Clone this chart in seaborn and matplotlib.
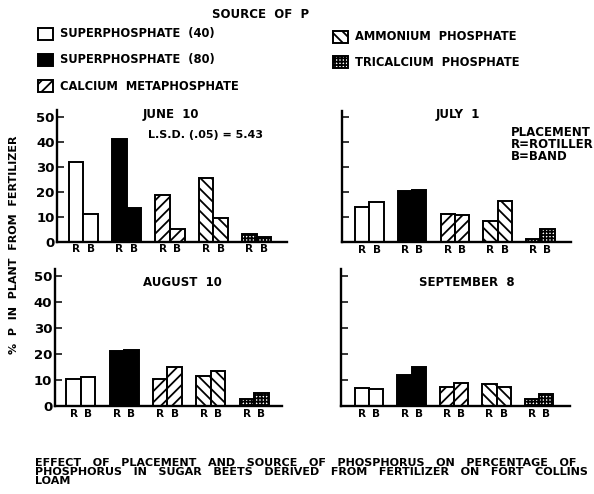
import matplotlib
matplotlib.use("Agg")
import matplotlib.pyplot as plt
import matplotlib.patches as mpatches
import seaborn as sns
import pandas as pd

sns.set_theme(style="white")
plt.rcParams['font.family'] = ['DejaVu Sans']
plt.rcParams['hatch.linewidth'] = 1.3

# ---------------- data ----------------
sources = ["SUPERPHOSPHATE (40)", "SUPERPHOSPHATE (80)", "CALCIUM METAPHOSPHATE",
           "AMMONIUM PHOSPHATE", "TRICALCIUM PHOSPHATE"]
placements = ["R", "B"]
dates = ["JUNE 10", "JULY 1", "AUGUST 10", "SEPTEMBER 8"]

june_R = [32, 41, 18.5, 25.5, 3]
june_B = [11, 13.5, 5, 9.5, 1.7]
july_R = [14, 20.5, 11.5, 8.5, 1.3]
july_B = [16, 21, 11, 16.5, 5.5]
aug_R = [10.5, 21, 10.5, 11.5, 2.6]
aug_B = [11, 21.5, 15, 13.5, 5]
sep_R = [7, 12, 7.5, 8.5, 2.6]
sep_B = [6.5, 15, 9, 7.5, 4.5]

y_ticks = [0, 10, 20, 30, 40, 50]

series = {
    "JUNE 10": (june_R, june_B),
    "JULY 1": (july_R, july_B),
    "AUGUST 10": (aug_R, aug_B),
    "SEPTEMBER 8": (sep_R, sep_B),
}

# ---------------- styles ----------------
face = ["white", "black", "white", "white", "white"]
hatches = ["", "", "///", "\\\\\\", "+++++"]

W, H = 594, 494
fig = plt.figure(figsize=(W / 100, H / 100), dpi=100)


def fx(x):
    return x / W


def fy(y):
    return 1 - y / H


def spaced(s, n=2):
    return (" " * n).join(s.split(" "))


# axes rects in pixels: (left, right, zero_y, px_per_unit)
rects = {
    "JUNE 10": (57.3, 287, 241.7, 2.5),
    "JULY 1": (341.7, 571, 242.5, 2.5),
    "AUGUST 10": (55, 281.7, 406, 2.6),
    "SEPTEMBER 8": (340.7, 570, 406, 2.6),
}
xlims = {
    "JUNE 10": (-0.6, 4.7),
    "JULY 1": (-0.65, 4.72),
    "AUGUST 10": (-0.6, 4.64),
    "SEPTEMBER 8": (-0.67, 4.73),
}
title_pos = {
    "JUNE 10": (171, 114),
    "JULY 1": (458, 114),
    "AUGUST 10": (182, 282),
    "SEPTEMBER 8": (467, 282),
}
YTOP = 52.5
bold = dict(fontweight="bold", color="black")

for d in dates:
    l, r, z, ppu = rects[d]
    hpx = YTOP * ppu
    ax = fig.add_axes([fx(l), fy(z), fx(r - l), hpx / H])
    R, B = series[d]
    df = pd.DataFrame({
        "source": sources * 2,
        "placement": ["R"] * len(sources) + ["B"] * len(sources),
        "pct": list(R) + list(B),
    })
    sns.barplot(data=df, x="source", y="pct", hue="placement", order=sources,
                hue_order=placements, width=0.67, gap=0, errorbar=None,
                legend=False, edgecolor="black", linewidth=1.4, ax=ax,
                palette=["white", "white"], saturation=1)
    for cont in ax.containers:
        for i, bar in enumerate(cont):
            bar.set_facecolor(face[i])
            bar.set_hatch(hatches[i])
            bar.set_edgecolor("black")
    ax.set_xlim(*xlims[d])
    ax.set_ylim(0, YTOP)
    ax.set_xlabel("")
    ax.set_ylabel("")
    for s in ["top", "right"]:
        ax.spines[s].set_visible(False)
    for s in ["left", "bottom"]:
        ax.spines[s].set_linewidth(1.7)
        ax.spines[s].set_color("black")
    ax.set_yticks(y_ticks)
    left_col = d in ("JUNE 10", "AUGUST 10")
    if left_col:
        ax.set_yticklabels([str(t) for t in y_ticks], fontsize=9.5, **bold)
    else:
        ax.set_yticklabels([])
    ax.tick_params(axis="y", direction="in", length=5, width=1.3, pad=2,
                   left=True)
    xt, xl = [], []
    for i in range(len(sources)):
        xt += [i - 0.1675, i + 0.1675]
        xl += placements
    ax.set_xticks(xt)
    ax.set_xticklabels(xl, fontsize=7.5, **bold)
    ax.tick_params(axis="x", length=0, pad=2)
    ax.patch.set_alpha(0)
    tx, ty = title_pos[d]
    fig.text(fx(tx), fy(ty), spaced(d), ha="center", va="center",
             fontsize=8.5, **bold)

fig.text(fx(148), fy(135), "L.S.D. (.05) = 5.43", ha="left", va="center", fontsize=8, **bold)
fig.text(fx(511), fy(133), "PLACEMENT", ha="left", va="center", fontsize=8.5, **bold)
fig.text(fx(511), fy(145), "R=ROTILLER", ha="left", va="center", fontsize=8.5, **bold)
fig.text(fx(511), fy(157), "B=BAND", ha="left", va="center", fontsize=8.5, **bold)

# y label
fig.text(fx(14), fy(245), spaced("% P IN PLANT FROM FERTILIZER"), rotation=90,
         ha="center", va="center", fontsize=8, **bold)

# legend (source of P)
fig.text(fx(261), fy(15), spaced("SOURCE OF P"), ha="center", va="center",
         fontsize=8.5, **bold)
leg_pos = [(38, 34), (38, 60), (38, 86), (333, 37), (333, 62)]
for i, (px, py) in enumerate(leg_pos):
    p = mpatches.Rectangle((fx(px), fy(py + 6)), fx(15), 12 / H,
                           transform=fig.transFigure, facecolor=face[i],
                           hatch=hatches[i], edgecolor="black", linewidth=1.4)
    fig.patches.append(p)
    fig.text(fx(px + 22), fy(py), spaced(sources[i]), ha="left", va="center",
             fontsize=8.3, **bold)

# caption
cap = ["EFFECT OF PLACEMENT AND SOURCE OF PHOSPHORUS ON PERCENTAGE OF",
       "PHOSPHORUS IN SUGAR BEETS DERIVED FROM FERTILIZER ON FORT COLLINS",
       "LOAM"]
for j, line in enumerate(cap):
    fig.text(fx(35), fy(463 + 9.2 * j), spaced(line, 3), ha="left", va="center",
             fontsize=8, **bold)

fig.savefig("out.png", dpi=100, facecolor="white")
